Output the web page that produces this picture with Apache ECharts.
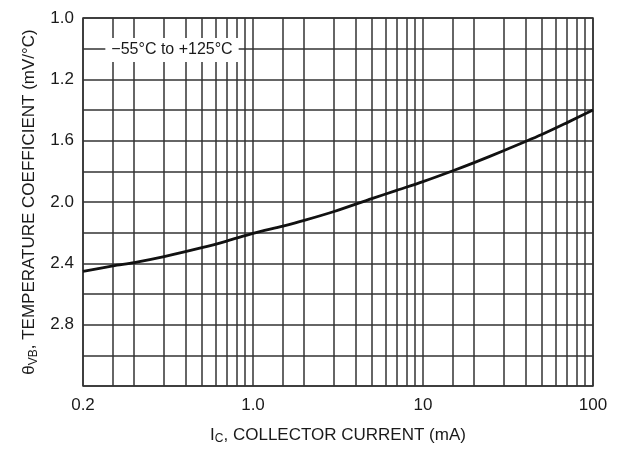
<!DOCTYPE html>
<html>
<head>
<meta charset="utf-8">
<script src="https://cdn.jsdelivr.net/npm/echarts@6/dist/echarts.min.js"></script>
<style>
html,body{margin:0;padding:0;background:#fff;}
#c{width:618px;height:450px;}
</style>
</head>
<body>
<div id="c"></div>
<script>
// Collector current (mA), as placed on the printed log grid
const currentMA = [0.1, 0.15, 0.2, 0.3, 0.5, 0.7, 1, 1.5, 2, 3, 5, 7, 10, 15, 20, 30, 50, 70, 100];
// Temperature coefficient (mV/°C), on the grid's linear scale
const tempCoef = [2.452, 2.416, 2.395, 2.356, 2.298, 2.255, 2.205, 2.157, 2.12, 2.062, 1.978, 1.924, 1.867, 1.796, 1.743, 1.664, 1.56, 1.484, 1.40];

// Tick labels as printed
const xTickValues = [0.1, 1, 10, 100];
const xTickLabels = ['0.2', '1.0', '10', '100'];
const yTickValues = [0.8, 1.2, 1.6, 2.0, 2.4, 2.8];
const yTickLabels = ['1.0', '1.2', '1.6', '2.0', '2.4', '2.8'];

// Intermediate vertical grid lines of the log paper
const xMinorGrid = [0.15, 0.2, 0.3, 0.4, 0.5, 0.6, 0.7, 0.8, 0.9,
                    1.5, 2, 3, 4, 5, 6, 7, 8, 9,
                    15, 20, 30, 40, 50, 60, 70, 80, 90];

const annotation = '\u221255\u00B0C to +125\u00B0C';

const FONT = '"Liberation Sans", Arial, Helvetica, sans-serif';
const GRID_COLOR = '#333';
const TEXT_COLOR = '#1a1a1a';

function lookup(values, labels, v) {
  for (let i = 0; i < values.length; i++) {
    if (Math.abs(values[i] - v) < 1e-6 * Math.max(1, Math.abs(v))) return labels[i];
  }
  return '';
}

const titleRich = {
  a: {fontFamily: FONT, fontSize: 17, color: TEXT_COLOR, lineHeight: 20},
  s: {fontFamily: FONT, fontSize: 12, color: TEXT_COLOR, lineHeight: 11, verticalAlign: 'bottom'}
};

const chart = echarts.init(document.getElementById('c'), null, {renderer: 'canvas'});
chart.setOption({
  animation: false,
  backgroundColor: '#fff',
  grid: {left: 83, right: 25, top: 18, bottom: 63, show: true, borderColor: GRID_COLOR, borderWidth: 1.5, backgroundColor: 'transparent'},
  xAxis: {
    type: 'log', logBase: 10, min: 0.1, max: 100, splitNumber: 3,
    name: '{a|I}{s|C}{a|, COLLECTOR CURRENT (mA)}',
    nameLocation: 'middle', nameGap: 39,
    nameTextStyle: {rich: titleRich},
    axisLine: {show: false},
    axisTick: {show: false},
    axisLabel: {
      fontFamily: FONT, fontSize: 17, color: TEXT_COLOR, margin: 11,
      formatter: v => lookup(xTickValues, xTickLabels, v)
    },
    splitLine: {show: true, lineStyle: {color: GRID_COLOR, width: 1.5}}
  },
  yAxis: {
    type: 'value', inverse: true, min: 0.8, max: 3.2, interval: 0.2,
    name: '{a|\u03B8}{s|VB}{a|, TEMPERATURE COEFFICIENT (mV/\u00B0C)}',
    nameLocation: 'middle', nameGap: 37, nameRotate: 90,
    nameTextStyle: {rich: titleRich},
    axisLine: {show: false},
    axisTick: {show: false},
    axisLabel: {
      fontFamily: FONT, fontSize: 17, color: TEXT_COLOR, margin: 9,
      formatter: v => lookup(yTickValues, yTickLabels, v)
    },
    splitLine: {show: true, lineStyle: {color: GRID_COLOR, width: 1.5}}
  },
  series: [
    {
      type: 'line',
      data: [],
      silent: true,
      markLine: {
        silent: true,
        symbol: ['none', 'none'],
        label: {show: false},
        lineStyle: {type: 'solid', color: GRID_COLOR, width: 1.5},
        data: xMinorGrid.map(v => ({xAxis: v}))
      }
    },
    {
      type: 'line',
      data: currentMA.map((x, i) => [x, tempCoef[i]]),
      smooth: 0.3,
      showSymbol: false,
      silent: true,
      z: 5,
      lineStyle: {color: '#111', width: 2.8}
    }
  ],
  graphic: [{
    type: 'text',
    z: 100,
    x: 172, y: 50,
    style: {
      text: annotation,
      font: '16px ' + FONT,
      fill: TEXT_COLOR,
      align: 'center',
      verticalAlign: 'middle',
      backgroundColor: '#fff',
      padding: [4, 6, 4, 6]
    }
  }]
});
</script>
</body>
</html>
